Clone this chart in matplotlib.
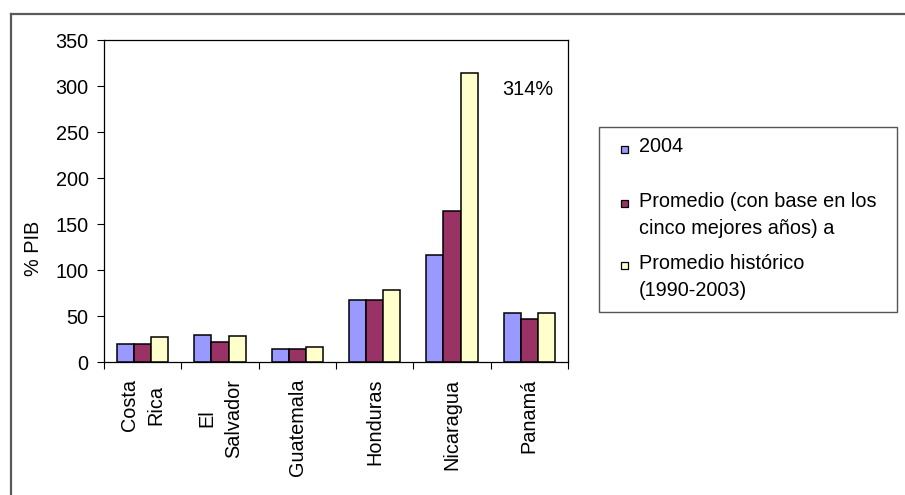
import matplotlib
matplotlib.use("Agg")
import matplotlib.pyplot as plt
from matplotlib.patches import Rectangle
from matplotlib.lines import Line2D
import numpy as np

plt.rcParams['font.family'] = ['Liberation Sans', 'DejaVu Sans']

# Deuda pública como % del PIB por país
countries = ["Costa\nRica", "El\nSalvador", "Guatemala", "Honduras", "Nicaragua", "Panamá"]
series_labels = ["2004",
                 "Promedio (con base en los\ncinco mejores años) a",
                 "Promedio histórico\n(1990-2003)"]
v2004 = [20, 30, 14, 68, 117, 53]
prom_mejores = [20, 22, 14, 68, 164, 47]
prom_historico = [27, 29, 17, 78, 314, 53]
yticks = [0, 50, 100, 150, 200, 250, 300, 350]

colors = ["#9999FF", "#993366", "#FFFFCC"]
FS = 14.3

W, H = 905, 495
fig = plt.figure(figsize=(W / 100, H / 100), dpi=100)

def fx(px):
    return px / W

def fy(py):
    return 1 - py / H

ax = fig.add_axes([fx(104), fy(362.3), fx(568) - fx(104), fy(40) - fy(362.3)])

x = np.arange(len(countries))
bw = 1 / 4.5
all_series = [v2004, prom_mejores, prom_historico]
for i, (vals, c) in enumerate(zip(all_series, colors)):
    ax.bar(x + (i - 1) * bw, vals, width=bw, color=c, edgecolor="black",
           linewidth=1.1, zorder=3)

ax.set_xlim(-0.5, len(countries) - 0.5)
ax.set_ylim(0, 350)
ax.set_yticks(yticks)
ax.set_yticklabels([str(t) for t in yticks], fontsize=FS)
ax.set_xticks(np.arange(len(countries) + 1) - 0.5)
ax.set_xticklabels([])
ax.set_xticks(x, minor=True)
ax.set_xticklabels(countries, minor=True, rotation=90, fontsize=FS,
                   va="top", ha="center", multialignment="center",
                   linespacing=1.5)
ax.tick_params(axis="x", which="major", direction="out", length=5, width=0.8)
ax.tick_params(axis="x", which="minor", length=0, pad=12)
ax.tick_params(axis="y", direction="out", length=5, width=0.8, pad=6)
for s in ax.spines.values():
    s.set_linewidth(0.9)
    s.set_color("black")

# Etiqueta del valor máximo (Nicaragua, promedio histórico)
nic = countries.index("Nicaragua")
peak = prom_historico[nic]
ax.text(nic + 0.98, peak - 18, f"{peak:.0f}%", fontsize=FS,
        ha="center", va="center")

fig.text(fx(33), fy(248), "% PIB", rotation=90, fontsize=FS,
         ha="center", va="center")

# Marco exterior del gráfico
fig.add_artist(Line2D([fx(11), fx(11)], [fy(14), 0], transform=fig.transFigure,
                      color="#5a5a5a", linewidth=1.6))
fig.add_artist(Line2D([fx(11), 1], [fy(14), fy(14)], transform=fig.transFigure,
                      color="#5a5a5a", linewidth=1.6))

# Leyenda
fig.add_artist(Rectangle((fx(599), fy(312)), fx(897) - fx(599), fy(127) - fy(312),
                         transform=fig.transFigure, facecolor="white",
                         edgecolor="#555555", linewidth=1.0))
first_baselines = [152, 207, 269]
marker_centers = [149.5, 204, 265]
pitch = 27
for lab, c, b0, mc in zip(series_labels, colors, first_baselines, marker_centers):
    fig.add_artist(Rectangle((fx(621), fy(mc + 3.5)), fx(7), 7 / H,
                             transform=fig.transFigure, facecolor=c,
                             edgecolor="black", linewidth=0.9))
    for k, line in enumerate(lab.split("\n")):
        fig.text(fx(639), fy(b0 + k * pitch), line, fontsize=FS,
                 ha="left", va="baseline")

fig.savefig("out.png", dpi=100)
